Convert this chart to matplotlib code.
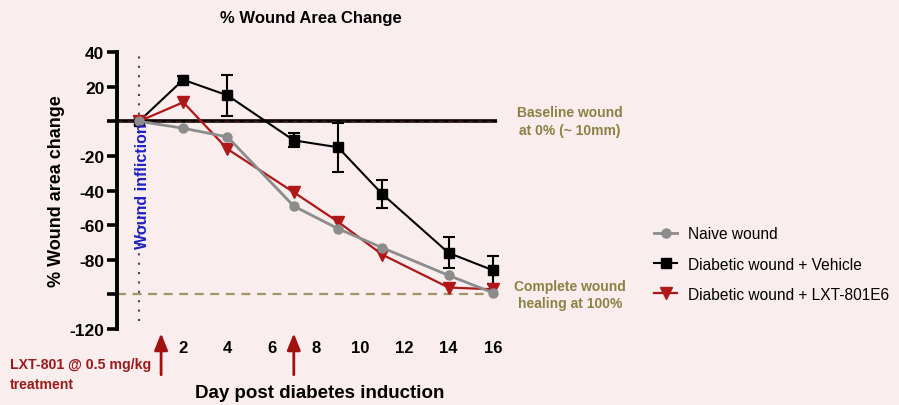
import matplotlib
matplotlib.use("Agg")
import matplotlib.pyplot as plt
from matplotlib.lines import Line2D
import numpy as np

plt.rcParams['font.family'] = ['Liberation Sans', 'DejaVu Sans']

# ---- data ----
days = [0, 2, 4, 7, 9, 11, 14, 16]
naive = [0, -4, -9, -49, -62, -73, -89, -99]
vehicle = [0, 24, 15, -11, -15, -42, -76, -86]
vehicle_err = [0, 2, 12, 4, 14, 8, 9, 8]
lxt = [0, 11, -16, -41, -58, -77, -96, -97]

series_labels = ["Naive wound", "Diabetic wound + Vehicle", "Diabetic wound + LXT-801E6"]
xticks = [2, 4, 6, 8, 10, 12, 14, 16]
yticks = [40, 20, 0, -20, -40, -60, -80, -100, -120]
yticklabels = ["40", "20", "", "-20", "-40", "-60", "-80", "", "-120"]
treatment_days = [1, 7]

bg = '#f9edee'
gray = '#8c8c8c'
red = '#b01818'
fig = plt.figure(figsize=(8.99, 4.06), dpi=100, facecolor=bg)
ax = fig.add_axes([0.130, 0.187, 0.4305, 0.6823])
ax.set_facecolor(bg)

ax.set_xlim(-1, 16.5)
ax.set_ylim(-120, 40)

# reference lines
ax.plot([-1, 16.2], [0, 0], color='black', lw=2.6, zorder=2, solid_capstyle='butt')
ax.plot([-1, 16.2], [0, 0], color='#7a2a20', lw=1.0, ls=(0, (4, 3)), zorder=2, alpha=0.6)
ax.plot([-1, 16.2], [-100, -100], color='#a09468', lw=1.6, ls=(0, (4, 3)), zorder=2)
ax.axvline(0, ymin=0.03, ymax=1.0, color='#444455', lw=1.5, ls=(0, (1, 3.5)), zorder=1)

# series
ax.errorbar(days, vehicle, yerr=vehicle_err, color='black', lw=1.5, marker='s',
            ms=6.5, capsize=4, capthick=1.5, elinewidth=1.5, zorder=3)
ax.plot(days, lxt, color=red, lw=1.6, marker='v', ms=8, zorder=4)
ax.plot(days, naive, color=gray, lw=2.0, marker='o', ms=6.5, zorder=5)

# axes styling
for s in ['top', 'right', 'bottom']:
    ax.spines[s].set_visible(False)
ax.spines['left'].set_linewidth(2.8)
ax.set_yticks(yticks)
ax.set_yticklabels(yticklabels, fontsize=12.5, fontweight='bold')
ax.tick_params(axis='y', length=7, width=2.6, pad=2)
ax.set_xticks(xticks)
ax.set_xticklabels([str(t) for t in xticks], fontsize=12, fontweight='bold')
ax.tick_params(axis='x', length=0, pad=8)

ax.set_title("% Wound Area Change", fontsize=12, fontweight='bold', pad=22)
ax.set_ylabel("% Wound area change", fontsize=13, fontweight='bold')
ax.yaxis.set_label_coords(-0.133, 0.5)
ax.set_xlabel("Day post diabetes induction", fontsize=13.5, fontweight='bold')
ax.xaxis.set_label_coords(0.523, -0.2)

# annotations
ax.text(0.15, -37, "Wound infliction", rotation=90, color='#1f22c4', fontsize=11.5,
        fontweight='bold', ha='center', va='center', zorder=6)
olive = '#8b8142'
ax.text(19.5, 0, "Baseline wound\nat 0% (~ 10mm)", color=olive, fontsize=10, fontweight='bold',
        ha='center', va='center', clip_on=False, linespacing=1.35)
ax.text(19.5, -100, "Complete wound\nhealing at 100%", color=olive, fontsize=10, fontweight='bold',
        ha='center', va='center', clip_on=False, linespacing=1.35)

tr = ax.get_xaxis_transform()
for d in treatment_days:
    ax.annotate("", xy=(d, -0.005), xytext=(d, -0.175), xycoords=tr, textcoords=tr,
                arrowprops=dict(arrowstyle='-|>,head_length=1.0,head_width=0.4',
                                color='#a31010', lw=2), annotation_clip=False)
fig.text(0.011, 0.076, "LXT-801 @ 0.5 mg/kg\ntreatment", color='#9b1b1b', fontsize=10.2,
         fontweight='bold', ha='left', va='center', linespacing=1.5)

# legend
handles = [
    Line2D([], [], color=gray, lw=2.0, marker='o', ms=6.5),
    Line2D([], [], color='black', lw=1.5, marker='s', ms=6.5),
    Line2D([], [], color=red, lw=1.6, marker='v', ms=8),
]
fig.legend(handles, series_labels, loc='center left',
           bbox_to_anchor=(0.712, 0.347), frameon=False, fontsize=11.2,
           handlelength=1.5, labelspacing=0.98, handletextpad=0.7)

fig.savefig("out.png", dpi=100, facecolor=bg)
